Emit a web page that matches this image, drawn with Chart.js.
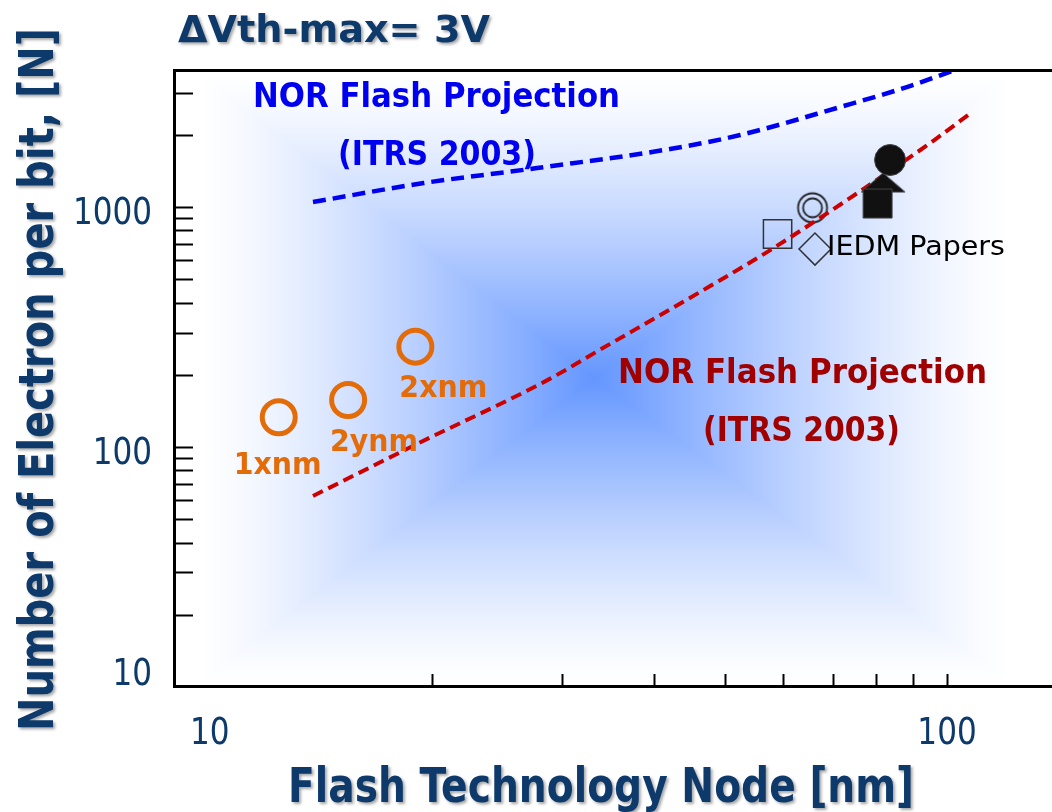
<!DOCTYPE html>
<html>
<head>
<meta charset="utf-8">
<title>Number of electrons per bit vs flash technology node</title>
<script src="https://cdn.jsdelivr.net/npm/chart.js@4.4.1/dist/chart.umd.min.js"></script>
<style>
  html, body { margin: 0; padding: 0; background: #fff; }
  canvas { display: block; }
</style>
</head>
<body>
<canvas id="electron-chart" width="1052" height="812"></canvas>
<script>
// NOR flash projection (ITRS 2003), upper curve - blue
var upperNode = [13.8, 19.5, 27.8, 42.1, 52.4, 71.6, 88.2, 102.5];
var upperElectrons = [1049, 1259, 1454, 1745, 1995, 2610, 3162, 3723];

// NOR flash projection (ITRS 2003), lower curve - red
var lowerNode = [13.8, 19.1, 28.7, 33.8, 46.2, 57.0, 66.6, 82.9, 95.7, 106.8];
var lowerElectrons = [62.5, 103, 190, 254, 442, 649, 883, 1386, 1884, 2418];

// NAND generations (orange rings)
var nandLabels = ["1xnm", "2ynm", "2xnm"];
var nandNode = [12.4, 15.4, 19.0];
var nandElectrons = [133, 157, 262];

// IEDM papers - filled and open symbols
var iedmSolidNode = [81.9, 80.5, 83.7];
var iedmSolidElectrons = [1265, 1034, 1570];
var iedmOpenNode = [58.9, 65.7, 66.2];
var iedmOpenElectrons = [772, 993, 668];

// axis labels
var xTickLabels = [10, 100];
var yTickLabels = [10, 100, 1000];

var navy = "#0d3a6b";
var font = '"DejaVu Sans", "Liberation Sans", sans-serif';

function pairs(xs, ys) {
  return xs.map(function (x, i) { return { x: x, y: ys[i] }; });
}

function makeMarker(w, h, draw) {
  var c = document.createElement("canvas");
  c.width = w;
  c.height = h;
  draw(c.getContext("2d"));
  return c;
}

var flatTriangle = makeMarker(46, 22, function (g) {
  g.beginPath();
  g.moveTo(23, 1.5);
  g.lineTo(45, 20.5);
  g.lineTo(1, 20.5);
  g.closePath();
  g.fillStyle = "#111";
  g.fill();
  g.strokeStyle = "#444";
  g.lineWidth = 1;
  g.stroke();
});

var doubleRing = makeMarker(36, 36, function (g) {
  g.strokeStyle = "#222";
  g.lineWidth = 1.8;
  g.beginPath();
  g.arc(18, 18, 14.5, 0, Math.PI * 2);
  g.stroke();
  g.beginPath();
  g.arc(18, 18, 9.5, 0, Math.PI * 2);
  g.stroke();
});

// text helper: optional target width squeezes the text horizontally
function paintText(ctx, text, o) {
  ctx.save();
  ctx.font = (o.weight || "normal") + " " + o.size + "px " + font;
  ctx.fillStyle = o.color;
  ctx.textBaseline = "alphabetic";
  var w = ctx.measureText(text).width;
  var sx = o.width ? o.width / w : (o.squeeze || 1);
  var drawn = w * sx;
  if (o.shadow) {
    ctx.shadowColor = "rgba(0,0,0,0.35)";
    ctx.shadowOffsetX = 2;
    ctx.shadowOffsetY = 2;
    ctx.shadowBlur = 3;
  }
  if (o.rotate) {
    ctx.translate(o.x, o.y);
    ctx.rotate(-Math.PI / 2);
    ctx.scale(sx, 1);
    ctx.fillText(text, 0, 0);
  } else {
    var left = o.align === "center" ? o.x - drawn / 2 : (o.align === "right" ? o.x - drawn : o.x);
    ctx.translate(left, o.y);
    ctx.scale(sx, 1);
    ctx.fillText(text, 0, 0);
  }
  ctx.restore();
}

// rectangular path gradient behind the data
var backdrop = {
  id: "backdrop",
  beforeDatasetsDraw: function (chart) {
    var a = chart.chartArea, ctx = chart.ctx;
    var L = Math.round(a.left + 24), R = Math.round(a.left + 836);
    var T = Math.round(a.top + 3), B = Math.round(a.bottom - 4);
    var cx = a.left + 420, cy = a.top + 308;
    var w = R - L, h = B - T;
    var off = document.createElement("canvas");
    off.width = w;
    off.height = h;
    var g = off.getContext("2d");
    var img = g.createImageData(w, h);
    for (var j = 0; j < h; j++) {
      var y = T + j;
      var dy = Math.abs(y - cy) / (y < cy ? cy - T : B - cy);
      for (var i = 0; i < w; i++) {
        var x = L + i;
        var dx = Math.abs(x - cx) / (x < cx ? cx - L : R - cx);
        var s = Math.pow(Math.max(0, 1 - Math.max(dx, dy)), 1.3);
        var k = (j * w + i) * 4;
        img.data[k] = 255 - (255 - 100) * s;
        img.data[k + 1] = 255 - (255 - 150) * s;
        img.data[k + 2] = 255;
        img.data[k + 3] = 255;
      }
    }
    g.putImageData(img, 0, 0);
    ctx.drawImage(off, L, T);
  }
};

// axes frame, inward ticks, labels and notes
var decorations = {
  id: "decorations",
  afterDatasetsDraw: function (chart) {
    var a = chart.chartArea, ctx = chart.ctx;
    var xs = chart.scales.x, ys = chart.scales.y;

    ctx.save();
    ctx.strokeStyle = "#000";
    ctx.lineWidth = 2;
    // y minor/major ticks
    [10, 100, 1000].forEach(function (d) {
      for (var m = 1; m <= 9; m++) {
        var v = m * d;
        if (v <= ys.min || v > ys.max) continue;
        var py = Math.round(ys.getPixelForValue(v)) + 0.5;
        ctx.beginPath();
        ctx.moveTo(a.left, py);
        ctx.lineTo(a.left + 19, py);
        ctx.stroke();
      }
    });
    // x ticks
    for (var m = 2; m <= 10; m++) {
      var px = Math.round(xs.getPixelForValue(m * 10)) + 0.5;
      ctx.beginPath();
      ctx.moveTo(px, a.bottom);
      ctx.lineTo(px, a.bottom - 13);
      ctx.stroke();
    }
    // frame
    ctx.lineWidth = 3;
    ctx.beginPath();
    ctx.moveTo(a.right, a.top + 0.5);
    ctx.lineTo(a.left + 0.5, a.top + 0.5);
    ctx.lineTo(a.left + 0.5, a.bottom - 0.5);
    ctx.lineTo(a.right, a.bottom - 0.5);
    ctx.stroke();
    ctx.restore();

    // tick labels
    yTickLabels.forEach(function (v) {
      var py = ys.getPixelForValue(v);
      paintText(ctx, String(v), { x: a.left - 22, y: Math.min(py + 17, a.bottom - 2), size: 37, color: navy, align: "right", squeeze: 0.84 });
    });
    xTickLabels.forEach(function (v) {
      paintText(ctx, String(v), { x: xs.getPixelForValue(v), y: 744, size: 37, color: navy, align: "center", squeeze: 0.84 });
    });

    // titles
    paintText(ctx, "\u0394Vth-max= 3V", { x: 178, y: 42, size: 37, weight: "bold", color: navy, width: 312, shadow: true });
    paintText(ctx, "Flash Technology Node [nm]", { x: 288, y: 802, size: 48, weight: "bold", color: navy, width: 626, shadow: true });
    paintText(ctx, "Number of Electron per bit, [N]", { x: 53, y: 731, size: 48, weight: "bold", color: navy, width: 703, rotate: true, shadow: true });

    // projection notes
    paintText(ctx, "NOR Flash Projection", { x: 253, y: 107, size: 34, weight: "bold", color: "#0000f0", width: 367 });
    paintText(ctx, "(ITRS 2003)", { x: 338, y: 165, size: 34, weight: "bold", color: "#0000f0", width: 198 });
    paintText(ctx, "NOR Flash Projection", { x: 618, y: 383, size: 34, weight: "bold", color: "#a00000", width: 369 });
    paintText(ctx, "(ITRS 2003)", { x: 703, y: 441, size: 34, weight: "bold", color: "#a00000", width: 197 });
    paintText(ctx, "IEDM Papers", { x: 827, y: 255, size: 26, color: "#000", width: 178 });

    // NAND generation labels under their rings
    var shifts = [[-1, 57], [26, 51], [28, 50]];
    nandLabels.forEach(function (lab, i) {
      var px = xs.getPixelForValue(nandNode[i]);
      var py = ys.getPixelForValue(nandElectrons[i]);
      paintText(ctx, lab, { x: px + shifts[i][0], y: py + shifts[i][1], size: 31, weight: "bold", color: "#e36c09", width: 88, align: "center" });
    });
  }
};

var ctx = document.getElementById("electron-chart");

var electronChart = new Chart(ctx, {
  type: "scatter",
  data: {
    datasets: [
      {
        label: "IEDM papers (filled)",
        data: pairs(iedmSolidNode, iedmSolidElectrons),
        pointStyle: [flatTriangle, "rect", "circle"],
        pointRadius: [12, 20.5, 15.5],
        backgroundColor: "#111",
        borderColor: "#444",
        borderWidth: 1,
        order: 0
      },
      {
        label: "NAND",
        data: pairs(nandNode, nandElectrons),
        pointStyle: "circle",
        pointRadius: 16.5,
        backgroundColor: "rgba(0,0,0,0)",
        borderColor: "#e36c09",
        borderWidth: 5,
        order: 1
      },
      {
        label: "NOR projection (lower)",
        data: pairs(lowerNode, lowerElectrons),
        showLine: true,
        cubicInterpolationMode: "monotone",
        borderColor: "#cc0000",
        borderWidth: 4,
        borderDash: [11, 6],
        pointRadius: 0,
        order: 2
      },
      {
        label: "NOR projection (upper)",
        data: pairs(upperNode, upperElectrons),
        showLine: true,
        cubicInterpolationMode: "monotone",
        borderColor: "#0000f0",
        borderWidth: 4.5,
        borderDash: [13, 7],
        pointRadius: 0,
        order: 3
      },
      {
        label: "IEDM papers (open)",
        data: pairs(iedmOpenNode, iedmOpenElectrons),
        pointStyle: ["rect", doubleRing, "rectRot"],
        pointRadius: [20, 15, 16],
        backgroundColor: "rgba(0,0,0,0)",
        borderColor: "#333",
        borderWidth: 1.5,
        order: 4
      }
    ]
  },
  options: {
    responsive: false,
    animation: false,
    devicePixelRatio: 1,
    layout: { autoPadding: false, padding: { left: 174, top: 70, right: 0, bottom: 125 } },
    scales: {
      x: { type: "logarithmic", min: 8.94, max: 138.8, display: false },
      y: { type: "logarithmic", min: 10, max: 3724, display: false }
    },
    plugins: {
      legend: { display: false },
      tooltip: { enabled: false }
    }
  },
  plugins: [backdrop, decorations]
});
</script>
</body>
</html>
